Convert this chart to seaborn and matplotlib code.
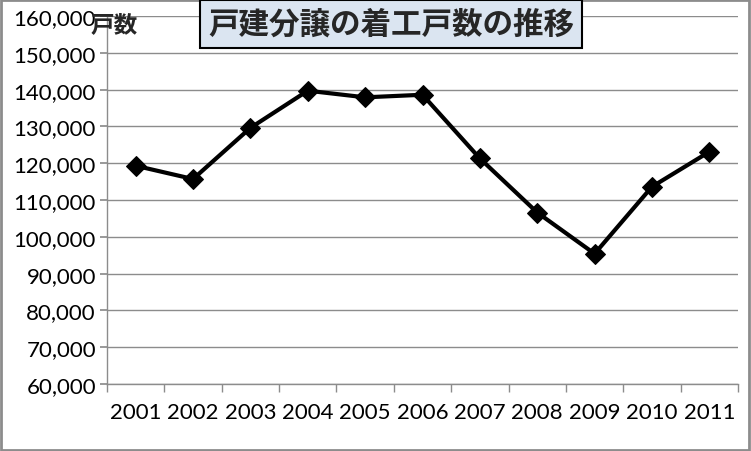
import matplotlib
matplotlib.use("Agg")
import matplotlib.pyplot as plt
import seaborn as sns
import pandas as pd
import numpy as np
from matplotlib.ticker import FuncFormatter, FixedLocator

years = ["2001", "2002", "2003", "2004", "2005", "2006", "2007", "2008", "2009", "2010", "2011"]
starts = [119300, 115700, 129600, 139700, 137900, 138600, 121300, 106600, 95400, 113600, 123100]
title = "戸建分譲の着工戸数の推移"
unit_label = "戸数"

sns.set_theme(style="white")
plt.rcParams['font.family'] = ['Lato', 'Noto Sans CJK JP', 'DejaVu Sans']

df = pd.DataFrame({"year": years, "starts": starts})

fig = plt.figure(figsize=(7.51, 4.52), dpi=100)
ax = fig.add_axes([107/751, 1-385/452, (738-107)/751, (385-17)/452])

sns.lineplot(data=df, x="year", y="starts", ax=ax, color="black", linewidth=3,
             marker="D", markersize=10, markeredgecolor="black", sort=False)

ax.set_ylim(60000, 160000)
ax.set_xlim(-0.5, len(years) - 0.5)
ax.set_yticks(np.arange(60000, 160001, 10000))
ax.yaxis.set_major_formatter(FuncFormatter(lambda v, p: f"{int(v):,}"))
ax.grid(axis="y", color="#8c8c8c", linewidth=1)
ax.grid(axis="x", visible=False)
ax.set_xlabel("")
ax.set_ylabel("")

for s in ["top", "right"]:
    ax.spines[s].set_visible(False)
for s in ["left", "bottom"]:
    ax.spines[s].set_color("#8c8c8c")
    ax.spines[s].set_linewidth(1)

ax.tick_params(axis="y", which="major", direction="out", length=5, color="#8c8c8c",
               labelsize=16, labelcolor="black", left=True, pad=3)
ax.tick_params(axis="x", which="major", length=0, labelsize=16, labelcolor="black", pad=13)
ax.xaxis.set_minor_locator(FixedLocator(np.arange(-0.5, len(years), 1.0)))
ax.tick_params(axis="x", which="minor", direction="out", length=6, color="#8c8c8c", bottom=True)

fig.text(91/751, 1-25/452, unit_label, fontsize=17, fontweight="bold",
         family=['Noto Sans CJK JP'], va="center", ha="left")
fig.text(391/751, 1-25/452, title, fontsize=22, fontweight="bold",
         family=['Noto Sans CJK JP'], va="center", ha="center",
         bbox=dict(boxstyle="square,pad=0.25", facecolor="#dbe5f1", edgecolor="black", linewidth=1.5))

border = plt.Rectangle((0.001, 0.002), 0.997, 0.995, transform=fig.transFigure,
                       fill=False, edgecolor="#8c8c8c", linewidth=2)
fig.patches.append(border)

fig.savefig("out.png", dpi=100)
